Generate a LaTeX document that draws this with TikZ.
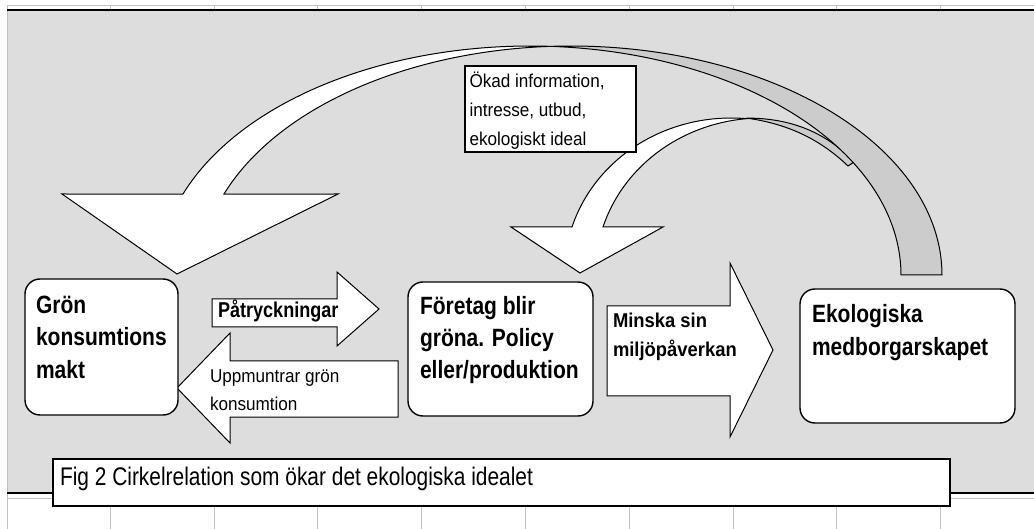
\documentclass[tikz,border=0pt]{standalone}
\usepackage{fontspec}
\setmainfont{Liberation Sans}
\newfontfamily\boxfont[FakeStretch=0.84]{Liberation Sans}
\newfontfamily\smallfont[FakeStretch=0.92]{Liberation Sans}
\newfontfamily\capfont[FakeStretch=0.82]{Liberation Sans}
\definecolor{bggray}{HTML}{DDDDDD}
\definecolor{backgray}{HTML}{CCCCCC}
\definecolor{gridgray}{HTML}{C0C0C0}
\tikzset{
  roundbox/.style={draw, fill=white, line width=1.4pt, rounded corners=15pt, anchor=north west, inner sep=0pt, outer sep=0pt},
  plainbox/.style={draw, fill=white, line width=1.2pt, anchor=north west, inner sep=0pt, outer sep=0pt},
  blockarrow/.style={draw, fill=white, line width=1pt, line join=miter},
  ribbon/.style={draw, line width=1pt, line join=miter},
  txt/.style={anchor=base west, inner sep=0pt, outer sep=0pt, align=left},
  gridline/.style={gridgray, line width=0.9pt},
}
\begin{document}
\begin{tikzpicture}[x=1pt, y=-1pt]
\useasboundingbox (0,0) rectangle (1034,529);
% background
\fill[white] (0,0) rectangle (1034,529);
\fill[bggray] (7,10) rectangle (1034,493);
% spreadsheet grid
\draw[gridline] (7,5) -- (1034,5);
\draw[gridline] (7,498) -- (1034,498);
\draw[gridline] (7,5) -- (7,529);
\foreach \gx in {110.5,214,317.5,421.5,525.5,629,733,836.5,940}{
  \draw[gridline] (\gx,5) -- (\gx,10);
  \draw[gridline] (\gx,498) -- (\gx,529);
}
\draw[line width=1.6pt] (7,10) -- (1034,10);
\draw[line width=1.6pt] (7,493) -- (1034,493);

% small curved arrow (front)
\draw[ribbon, fill=white] (511,227)
  -- plot[domain=162.73:84.66, samples=60] ({731+166.5*cos(\x)},{273-155*sin(\x)})
  -- plot[domain=95.34:162.73, samples=60] ({762+166.5*cos(\x)},{273-155*sin(\x)})
  -- (663,227) -- (580,273) -- cycle;
% small curved arrow (back sliver)
\draw[ribbon, fill=backgray] (746.5,118.1) .. controls (790,118) and (826,132) .. (854,162)
  -- (848,166) .. controls (822,141) and (790,124) .. (746.5,118.1) -- cycle;

% big curved arrow (back, grey)
\draw[ribbon, fill=backgray]
  plot[domain=93.17:0, samples=80] ({571+371*cos(\x)},{275-229*sin(\x)})
  -- plot[domain=0:86.83, samples=80] ({530+371*cos(\x)},{275-229*sin(\x)}) -- cycle;
% big curved arrow (front, white)
\draw[ribbon, fill=white] (62,194)
  -- plot[domain=159.3:86.83, samples=80] ({530+371*cos(\x)},{275-229*sin(\x)})
  -- plot[domain=93.17:159.3, samples=80] ({571+371*cos(\x)},{275-229*sin(\x)})
  -- (338,194) -- (177,274) -- cycle;

% text box
\node[plainbox, minimum width=171pt, minimum height=86pt] (okbox) at (465,66) {};
\node[txt, font={\smallfont\fontsize{18.6}{29}\selectfont}] (oktext) at (469.5,146)
  {Ökad information,\\intresse, utbud,\\ekologiskt ideal};

% block arrows
\draw[blockarrow] (212,299) -- (337,299) -- (337,272) -- (379,309) -- (337,346) -- (337,327) -- (212,327) -- cycle;
\draw[blockarrow] (177,388) -- (230,333) -- (230,361) -- (398,361) -- (398,417) -- (230,417) -- (230,443) -- cycle;
\draw[blockarrow] (607,306) -- (730,306) -- (730,263) -- (773,350) -- (730,437) -- (730,396) -- (607,396) -- cycle;

\node[txt, font={\boxfont\bfseries\fontsize{21.5}{28}\selectfont}] (patr) at (218,318) {Påtryckningar};
\node[txt, font={\smallfont\fontsize{18.6}{28}\selectfont}] (uppm) at (210,410) {Uppmuntrar grön\\konsumtion};
\node[txt, font={\smallfont\bfseries\fontsize{20}{29}\selectfont}] (minska) at (613,357) {Minska sin\\miljöpåverkan};

% rounded boxes
\node[roundbox, minimum width=153pt, minimum height=136pt] (gron) at (25,279) {};
\node[roundbox, minimum width=185pt, minimum height=134pt] (foretag) at (408,282) {};
\node[roundbox, minimum width=215pt, minimum height=134pt] (eko) at (800,289) {};
\node[txt, font={\boxfont\bfseries\fontsize{25}{32.5}\selectfont}] (grontext) at (36,378) {Grön\\konsumtions\\makt};
\node[txt, font={\boxfont\bfseries\fontsize{25}{32.5}\selectfont}] (foretagtext) at (420,379) {Företag blir\\gröna. Policy\\eller/produktion};
\node[txt, font={\boxfont\bfseries\fontsize{25}{33}\selectfont}] (ekotext) at (812,356) {Ekologiska\\medborgarskapet};

% caption
\node[plainbox, line width=1.4pt, minimum width=897pt, minimum height=47pt] (capbox) at (53,459) {};
\node[txt, font={\capfont\fontsize{25.5}{30}\selectfont}] (captext) at (60,485) {Fig 2 Cirkelrelation som ökar det ekologiska idealet};
\end{tikzpicture}
\end{document}
